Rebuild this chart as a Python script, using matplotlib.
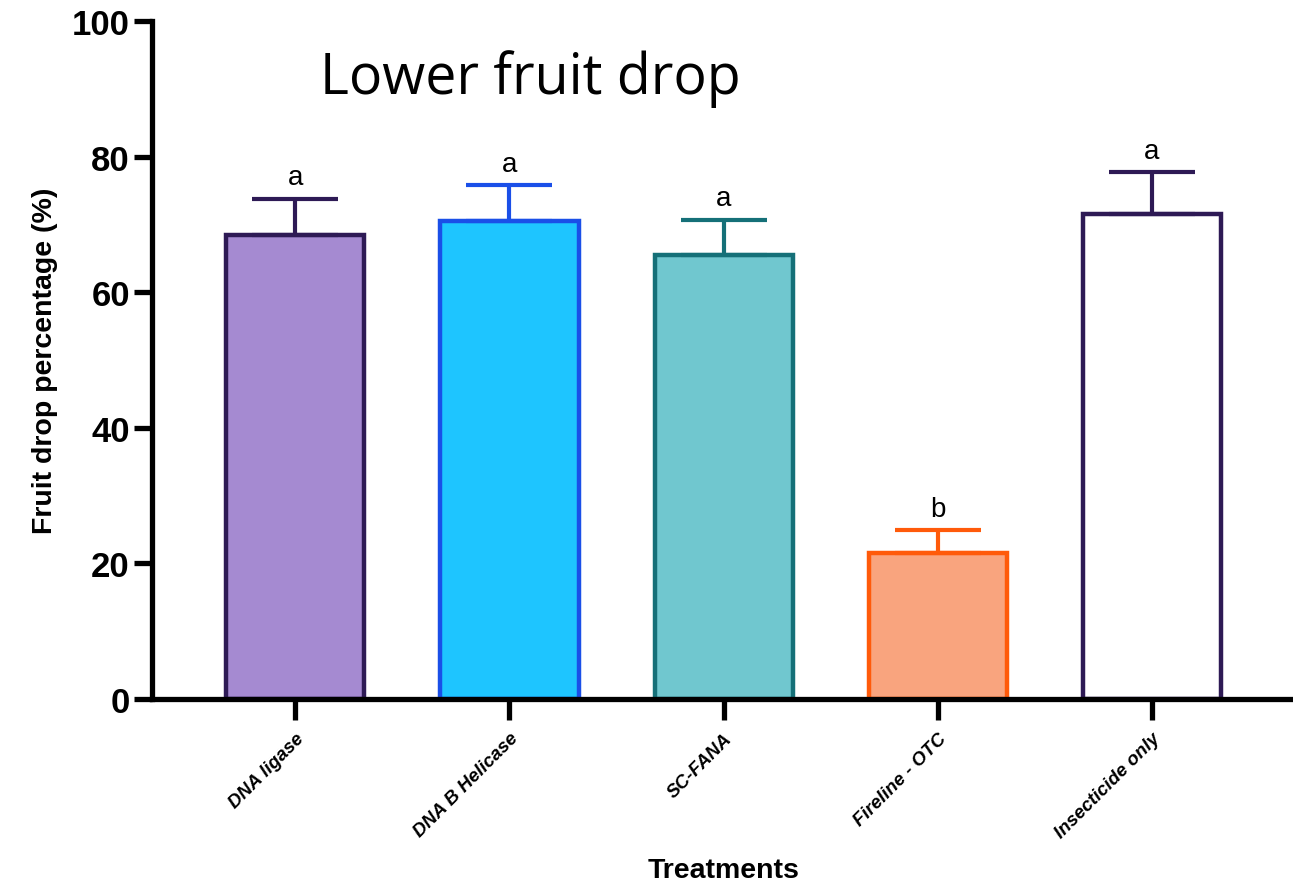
import numpy as np
import matplotlib.pyplot as plt

# treatment means, standard errors and group letters
treatments = ['DNA ligase', 'DNA B Helicase', 'SC-FANA', 'Fireline - OTC', 'Insecticide only']
drop_pct = [68.5, 70.5, 65.5, 21.5, 71.5]
drop_err = [5.3, 5.3, 5.2, 3.4, 6.2]
groups = ['a', 'a', 'a', 'b', 'a']

fill_colors = ['#a58ad1', '#1ec5ff', '#70c7cf', '#f9a47e', '#ffffff']
edge_colors = ['#2e1a55', '#1a4fe8', '#157078', '#ff5a0a', '#2e1a55']

fig = plt.figure(figsize=(12.93, 8.87), dpi=100)
ax = fig.add_axes([152 / 1293, 187 / 887, (1293 - 152) / 1293, 678 / 887])

x = np.arange(len(treatments))
ax.bar(x, drop_pct, width=0.645, color=fill_colors, edgecolor=edge_colors,
       linewidth=3.2, zorder=2)
for xi, m, e, ec, g in zip(x, drop_pct, drop_err, edge_colors, groups):
    ax.errorbar(xi, m, yerr=[[0], [e]], fmt='none', ecolor=ec, elinewidth=3,
                capsize=31, capthick=3, zorder=3)
    ax.annotate(g, (xi, m + e), xytext=(0, 6), textcoords='offset points',
                ha='center', va='bottom', fontsize=20, family='Liberation Sans')

ax.set_xlim(-0.67, 4.66)
ax.set_ylim(0, 100)
ax.set_yticks([0, 20, 40, 60, 80, 100])

for s in ['top', 'right']:
    ax.spines[s].set_visible(False)
for s in ['left', 'bottom']:
    ax.spines[s].set_linewidth(3.8)
ax.spines['bottom'].set_zorder(4)

ax.tick_params(axis='y', length=13, width=3.8, labelsize=25, pad=3)
ax.tick_params(axis='x', length=15, width=3.8, pad=7)
for lab in ax.get_yticklabels():
    lab.set_fontweight('bold')
    lab.set_family('Liberation Sans')

ax.set_xticks(x)
ax.set_xticklabels(treatments, rotation=45, ha='right', rotation_mode='anchor',
                   fontsize=13.5, fontweight='bold', fontstyle='italic',
                   family='Liberation Sans')

ax.set_ylabel('Fruit drop percentage (%)', fontsize=20.5, fontweight='bold',
              family='Liberation Sans', labelpad=10)
fig.text(724 / 1293, 1 - 871 / 887, 'Treatments', ha='center', va='center',
         fontsize=20.5, fontweight='bold', family='Liberation Sans')

fig.text(320 / 1293, 1 - 79 / 887, 'Lower fruit drop', ha='left', va='center',
         fontsize=40, family='Open Sans')

fig.savefig('out.png', dpi=100)
